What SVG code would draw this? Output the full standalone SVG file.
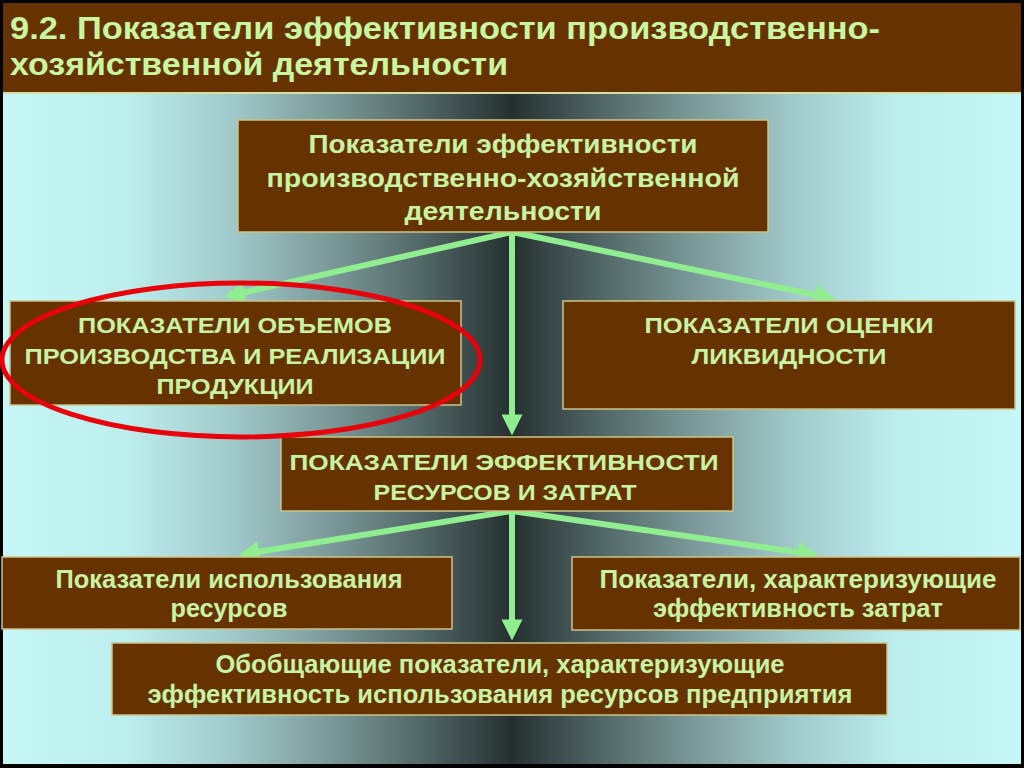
<svg xmlns="http://www.w3.org/2000/svg" width="1024" height="768" viewBox="0 0 1024 768">
<defs>
<linearGradient id="bg" x1="0" y1="0" x2="1" y2="0">
<stop offset="0" stop-color="#c6f6f6"/>
<stop offset="0.12" stop-color="#bdeeee"/>
<stop offset="0.22" stop-color="#a2cbcb"/>
<stop offset="0.32" stop-color="#7c9a9a"/>
<stop offset="0.42" stop-color="#4e6262"/>
<stop offset="0.5" stop-color="#263030"/>
<stop offset="0.58" stop-color="#4e6262"/>
<stop offset="0.68" stop-color="#7c9a9a"/>
<stop offset="0.78" stop-color="#a2cbcb"/>
<stop offset="0.88" stop-color="#bdeeee"/>
<stop offset="1" stop-color="#c6f6f6"/>
</linearGradient>
<marker id="ah" markerUnits="userSpaceOnUse" viewBox="0 0 20 20" markerWidth="21" markerHeight="21" refX="0.5" refY="10" orient="auto">
<path d="M0,0 L20,10 L0,20 Z" fill="#90ee90"/>
</marker>
</defs>
<style>
.box{fill:#663300;stroke:#cbc38a;stroke-width:1.5}
.t{font-family:"Liberation Sans",Arial,sans-serif;font-weight:bold;fill:#c8f3a4;text-anchor:middle}
.w{font-size:25px}
.u{font-size:22px}
.n{font-size:25px}
.title{font-family:"Liberation Sans",Arial,sans-serif;font-weight:bold;fill:#c8f7a0;font-size:31px}
.c{stroke:#90ee90;stroke-width:6;fill:none;marker-end:url(#ah)}
</style>
<rect x="0" y="0" width="1024" height="768" fill="#000"/>
<rect x="3" y="3" width="1018" height="761" fill="url(#bg)"/>
<g id="title">
<rect x="3" y="3" width="1018" height="89" fill="#663300"/>
<rect x="3" y="92" width="1018" height="2" fill="#d6dea0"/>
<text class="title" x="10" y="39" textLength="870" lengthAdjust="spacingAndGlyphs">9.2. Показатели эффективности производственно-</text>
<text class="title" x="10" y="75" textLength="498" lengthAdjust="spacingAndGlyphs">хозяйственной деятельности</text>
</g>
<g id="connectors">
<line class="c" x1="512" y1="232" x2="243.5" y2="292.6"/>
<line class="c" x1="512" y1="232" x2="815.4" y2="294.9"/>
<line class="c" x1="512" y1="229" x2="512" y2="415"/>
<line class="c" x1="512" y1="511" x2="258.7" y2="551.8"/>
<line class="c" x1="512" y1="511" x2="798.2" y2="552.2"/>
<line class="c" x1="512" y1="509" x2="512" y2="620"/>
</g>
<g id="node-top">
<rect class="box" x="238" y="120" width="530" height="112"/>
<text class="t w" x="503" y="153" textLength="389" lengthAdjust="spacingAndGlyphs">Показатели эффективности</text>
<text class="t w" x="503" y="187" textLength="473" lengthAdjust="spacingAndGlyphs">производственно-хозяйственной</text>
<text class="t w" x="503" y="220" textLength="197" lengthAdjust="spacingAndGlyphs">деятельности</text>
</g>
<g id="node-volume">
<rect class="box" x="10" y="301" width="451" height="104"/>
<text class="t u" x="235" y="333" textLength="314" lengthAdjust="spacingAndGlyphs">ПОКАЗАТЕЛИ ОБЪЕМОВ</text>
<text class="t u" x="235" y="364" textLength="421" lengthAdjust="spacingAndGlyphs">ПРОИЗВОДСТВА И РЕАЛИЗАЦИИ</text>
<text class="t u" x="235" y="394" textLength="157" lengthAdjust="spacingAndGlyphs">ПРОДУКЦИИ</text>
</g>
<g id="node-liquidity">
<rect class="box" x="563" y="301" width="452" height="108"/>
<text class="t u" x="789" y="333" textLength="289" lengthAdjust="spacingAndGlyphs">ПОКАЗАТЕЛИ ОЦЕНКИ</text>
<text class="t u" x="789" y="364" textLength="195" lengthAdjust="spacingAndGlyphs">ЛИКВИДНОСТИ</text>
</g>
<g id="node-resources">
<rect class="box" x="281" y="437" width="452" height="74"/>
<text class="t u" x="504" y="470" textLength="429" lengthAdjust="spacingAndGlyphs">ПОКАЗАТЕЛИ ЭФФЕКТИВНОСТИ</text>
<text class="t u" x="505" y="500" textLength="263" lengthAdjust="spacingAndGlyphs">РЕСУРСОВ И ЗАТРАТ</text>
</g>
<g id="node-usage">
<rect class="box" x="2" y="557" width="450" height="72"/>
<text class="t n" x="229" y="588" textLength="347" lengthAdjust="spacingAndGlyphs">Показатели использования</text>
<text class="t n" x="229" y="617" textLength="117" lengthAdjust="spacingAndGlyphs">ресурсов</text>
</g>
<g id="node-costs">
<rect class="box" x="572" y="557" width="448" height="73"/>
<text class="t n" x="798" y="588" textLength="397" lengthAdjust="spacingAndGlyphs">Показатели,  характеризующие</text>
<text class="t n" x="798" y="617" textLength="290" lengthAdjust="spacingAndGlyphs">эффективность затрат</text>
</g>
<g id="node-general">
<rect class="box" x="112" y="643" width="775" height="72"/>
<text class="t n" x="500" y="673" textLength="569" lengthAdjust="spacingAndGlyphs">Обобщающие показатели, характеризующие</text>
<text class="t n" x="500" y="703" textLength="705" lengthAdjust="spacingAndGlyphs">эффективность использования ресурсов предприятия</text>
</g>
<g id="highlight">
<ellipse cx="241" cy="360" rx="239" ry="77" fill="none" stroke="#e8000a" stroke-width="5"/>
</g>
</svg>
